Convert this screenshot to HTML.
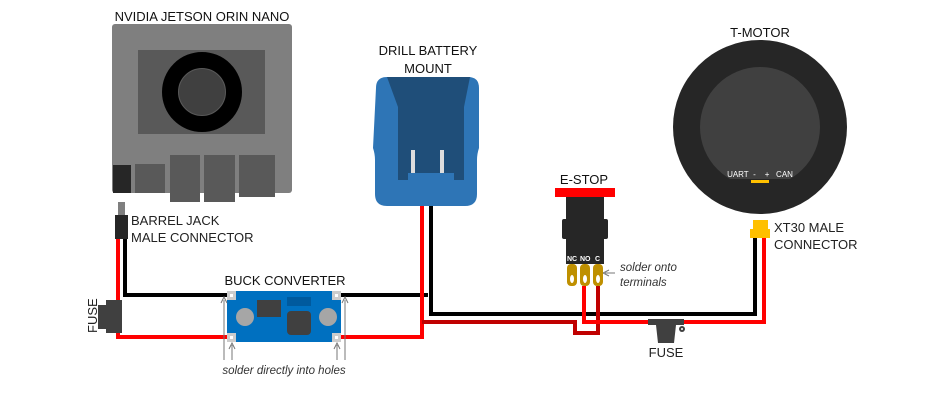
<!DOCTYPE html>
<html><head><style>
body{margin:0;background:#fff;}
svg{display:block;font-family:"Liberation Sans",sans-serif;}
</style></head><body>
<svg width="948" height="415" viewBox="0 0 948 415" xmlns="http://www.w3.org/2000/svg">
<!-- Jetson -->
<text x="202" y="21" font-size="13" text-anchor="middle" fill="#111">NVIDIA JETSON ORIN NANO</text>
<rect x="112" y="24" width="180" height="169" rx="3" fill="#7f7f7f"/>
<rect x="138" y="50" width="127" height="84" fill="#595959"/>
<circle cx="202" cy="92" r="32" fill="none" stroke="#000" stroke-width="16"/>
<circle cx="202" cy="92" r="23" fill="#404040"/>
<rect x="113" y="165" width="18" height="28" fill="#262626"/>
<rect x="135" y="164" width="30" height="29" fill="#595959"/>
<rect x="170" y="155" width="30" height="47" fill="#595959"/>
<rect x="204" y="155" width="31" height="47" fill="#595959"/>
<rect x="239" y="155" width="36" height="42" fill="#595959"/>
<!-- Barrel jack -->
<rect x="118" y="202" width="7" height="14" fill="#7f7f7f"/>
<rect x="115" y="215" width="13" height="24" fill="#262626"/>
<text x="131" y="225" font-size="13" fill="#222">BARREL JACK</text>
<text x="131" y="242" font-size="13" fill="#222">MALE CONNECTOR</text>
<!-- Wires -->
<g fill="none" stroke-width="4">
<polyline points="125,239 125,295 428,295" stroke="#000"/>
<polyline points="118,239 118,302" stroke="#f00"/>
<polyline points="118,333 118,337 422,337 422,206" stroke="#f00"/>
<polyline points="431,206 431,314 755,314 755,238" stroke="#000"/>
<polyline points="422,322 575,322 575,333 598,333 598,286" stroke="#c00000"/>
<polyline points="584,286 584,322 764,322 764,238" stroke="#f00"/>
</g>
<!-- left fuse -->
<path d="M106,300 h16 v33 h-16 v-4 h-8 v-24 h8 z" fill="#404040"/>
<circle cx="111" cy="330" r="3" fill="#404040"/>
<text transform="translate(97,333) rotate(-90)" font-size="13" fill="#222">FUSE</text>
<!-- Buck -->
<text x="285" y="285" font-size="13" text-anchor="middle" fill="#111">BUCK CONVERTER</text>
<rect x="227" y="291" width="114" height="51" fill="#0070c0"/>
<rect x="227" y="291" width="9" height="9" fill="#ccc"/><rect x="230" y="294" width="3" height="3" fill="#fff"/>
<rect x="332" y="291" width="9" height="9" fill="#ccc"/><rect x="335" y="294" width="3" height="3" fill="#fff"/>
<rect x="227" y="333" width="9" height="9" fill="#ccc"/><rect x="230" y="336" width="3" height="3" fill="#fff"/>
<rect x="332" y="333" width="9" height="9" fill="#ccc"/><rect x="335" y="336" width="3" height="3" fill="#fff"/>
<circle cx="245" cy="317" r="9" fill="#a6a6a6"/>
<circle cx="328" cy="317" r="9" fill="#a6a6a6"/>
<rect x="257" y="300" width="24" height="17" fill="#404040"/>
<rect x="287" y="297" width="24" height="9" fill="#005a9e"/>
<rect x="287" y="311" width="24" height="24" rx="4" fill="#404040"/>
<g stroke="#777" stroke-width="1" fill="none">
<line x1="224" y1="300" x2="224" y2="360"/><path d="M221,303 L224,297 L227,303"/>
<line x1="232" y1="345" x2="232" y2="360"/><path d="M229,349 L232,343 L235,349"/>
<line x1="345" y1="300" x2="345" y2="360"/><path d="M342,303 L345,297 L348,303"/>
<line x1="337" y1="345" x2="337" y2="360"/><path d="M334,349 L337,343 L340,349"/>
<line x1="615" y1="273" x2="605" y2="273"/><path d="M609,270 L603,273 L609,276"/>
</g>
<text x="284" y="374" font-size="11.5" font-style="italic" text-anchor="middle" fill="#333">solder directly into holes</text>
<!-- Battery -->
<text x="428" y="55" font-size="13" text-anchor="middle" fill="#111">DRILL BATTERY</text>
<text x="428" y="73" font-size="13" text-anchor="middle" fill="#111">MOUNT</text>
<path d="M376,88 q0,-11 11,-11 h81 q11,0 11,11 v60 q-2,6 -2,12 v34 q0,12 -12,12 h-78 q-12,0 -12,-12 v-34 q0,-6 -2,-12 z" fill="#2e75b6"/>
<path d="M387,77 h83 l-6,30 v73 h-10 v-7 h-46 v7 h-10 v-73 z" fill="#1f4e79"/>
<rect x="411" y="150" width="4" height="23" fill="#ddd"/>
<rect x="440" y="150" width="4" height="23" fill="#ddd"/>
<!-- E-stop -->
<text x="584" y="184" font-size="13" text-anchor="middle" fill="#111">E-STOP</text>
<rect x="555" y="188" width="60" height="9" fill="#f00"/>
<rect x="566" y="197" width="38" height="67" fill="#262626"/>
<rect x="562" y="219" width="46" height="20" rx="2" fill="#262626"/>
<text x="567" y="261" font-size="7" fill="#fff" font-weight="bold">NC</text>
<text x="580" y="261" font-size="7" fill="#fff" font-weight="bold">NO</text>
<text x="595" y="261" font-size="7" fill="#fff" font-weight="bold">C</text>
<g fill="#bf9000">
<rect x="567" y="264" width="10" height="22" rx="4"/>
<rect x="580" y="264" width="10" height="22" rx="4"/>
<rect x="593" y="264" width="10" height="22" rx="4"/>
</g>
<g fill="#fff"><ellipse cx="572" cy="279" rx="2" ry="4"/><ellipse cx="585" cy="279" rx="2" ry="4"/><ellipse cx="598" cy="279" rx="2" ry="4"/></g>
<text x="620" y="271" font-size="11.5" font-style="italic" fill="#333">solder onto</text>
<text x="620" y="286" font-size="11.5" font-style="italic" fill="#333">terminals</text>
<!-- right fuse -->
<path d="M648,319 h36 v6 h-8 l-2,18 h-16 l-2,-18 h-8 z" fill="#404040"/>
<circle cx="682" cy="329" r="3" fill="#404040"/><circle cx="682" cy="329" r="1" fill="#fff"/>
<text x="666" y="357" font-size="13" text-anchor="middle" fill="#222">FUSE</text>
<!-- Motor -->
<text x="760" y="37" font-size="13" text-anchor="middle" fill="#111">T-MOTOR</text>
<circle cx="760" cy="127" r="87" fill="#262626"/>
<clipPath id="c"><rect x="690" y="60" width="140" height="119"/></clipPath>
<circle cx="760" cy="127" r="60" fill="#404040" clip-path="url(#c)"/>
<text x="760" y="177" font-size="8" text-anchor="middle" fill="#fff">UART&#160; -&#160;&#160;&#160; +&#160;&#160; CAN</text>
<rect x="751" y="180" width="18" height="3" fill="#ffc000"/>
<rect x="753" y="220" width="15" height="9" fill="#ffc000"/>
<rect x="750" y="229" width="20" height="9" fill="#ffc000"/>
<text x="774" y="232" font-size="13" fill="#222">XT30 MALE</text>
<text x="774" y="249" font-size="13" fill="#222">CONNECTOR</text>
</svg>
</body></html>
